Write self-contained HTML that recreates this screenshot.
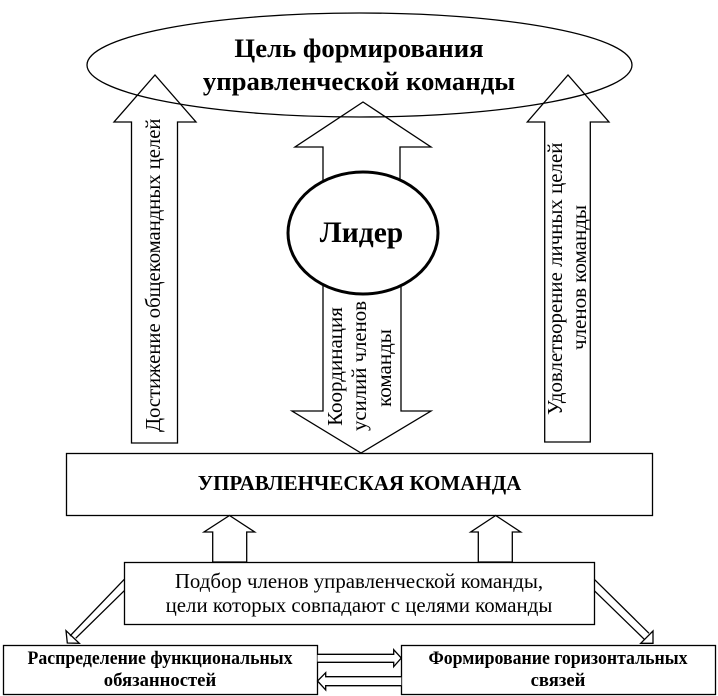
<!DOCTYPE html>
<html>
<head>
<meta charset="utf-8">
<style>
html,body{margin:0;padding:0;background:#fff}
svg{display:block}
text{font-family:"Liberation Serif","Noto Serif CJK SC",serif;fill:#000}
.s{fill:#fff;stroke:#000;stroke-width:1.3}
.n{fill:none;stroke:#000;stroke-width:1.3}
.b{font-weight:bold}
</style>
</head>
<body>
<svg width="718" height="696" viewBox="0 0 718 696" xmlns="http://www.w3.org/2000/svg">
<ellipse class="s" cx="359.5" cy="65" rx="272.5" ry="52"/>
<path class="n" d="M131.5 443V122H114L155 75L196 122H177.5V443Z"/>
<path class="n" d="M544.7 442V122H527.3L568 75L609 122H590.3V442Z"/>
<path class="n" d="M323 180V147H295L363 102L431 147H400V180"/>
<path class="s" d="M323 285V411H292L361 453L431 411H401V285Z"/>
<ellipse cx="363" cy="233" rx="75" ry="61" fill="#fff" stroke="#000" stroke-width="3"/>
<text class="b" x="359" y="57" font-size="26.75" text-anchor="middle">Цель формирования</text>
<text class="b" x="359" y="90" font-size="26.75" text-anchor="middle">управленческой команды</text>
<text class="b" x="361.5" y="242" font-size="29.5" text-anchor="middle">Лидер</text>
<text transform="translate(160,432) rotate(-90)" font-size="20.67">Достижение общекомандных целей</text>
<text transform="translate(562,415) rotate(-90)" font-size="20.9">Удовлетворение личных целей</text>
<text transform="translate(586,277.5) rotate(-90)" font-size="21" text-anchor="middle">членов команды</text>
<text transform="translate(342,366.5) rotate(-90)" font-size="21" text-anchor="middle">Координация</text>
<text transform="translate(366,366) rotate(-90)" font-size="20.8" text-anchor="middle">усилий членов</text>
<text transform="translate(391,368) rotate(-90)" font-size="21" text-anchor="middle">команды</text>
<rect class="s" x="66.5" y="453.5" width="586" height="62"/>
<text class="b" x="359.5" y="490" font-size="21" text-anchor="middle">УПРАВЛЕНЧЕСКАЯ КОМАНДА</text>
<path class="s" d="M212.7 562V532H204L229.5 515.5L254.7 532H246.7V562Z"/>
<path class="s" d="M478.3 562V532H470.7L495.7 515.5L520.7 532H512.3V562Z"/>
<rect class="s" x="124.5" y="562.5" width="470" height="62"/>
<text x="359" y="588" font-size="20.85" text-anchor="middle">Подбор членов управленческой команды,</text>
<text x="359" y="612" font-size="20.85" text-anchor="middle">цели которых совпадают с целями команды</text>
<path class="n" d="M124.3 579.3L70 636M124.3 590.7L75.7 638.3"/>
<path class="n" d="M66 630.7L67.3 643L79.3 643.3Z"/>
<path class="n" d="M594.3 579.3L649 633.3M594.3 590.7L644.3 639.3"/>
<path class="n" d="M653 631V643.3H640.7Z"/>
<rect class="s" x="3.5" y="645.5" width="314" height="49"/>
<rect class="s" x="401.5" y="645.5" width="314" height="49"/>
<path class="s" d="M317.5 654.3H393.7V649.7L401.3 658L393.7 666.7V662.3H317.5"/>
<path class="s" d="M401.3 676.7H325.7V672.7L317.5 681L325.7 690V685.7H401.3"/>
<text class="b" x="160" y="664" font-size="18.67" text-anchor="middle" textLength="265" lengthAdjust="spacingAndGlyphs">Распределение функциональных</text>
<text class="b" x="160" y="686" font-size="18.67" text-anchor="middle">обязанностей</text>
<text class="b" x="558" y="664" font-size="18.67" text-anchor="middle" textLength="259" lengthAdjust="spacingAndGlyphs">Формирование горизонтальных</text>
<text class="b" x="558" y="686" font-size="18.67" text-anchor="middle">связей</text>
</svg>
</body>
</html>
